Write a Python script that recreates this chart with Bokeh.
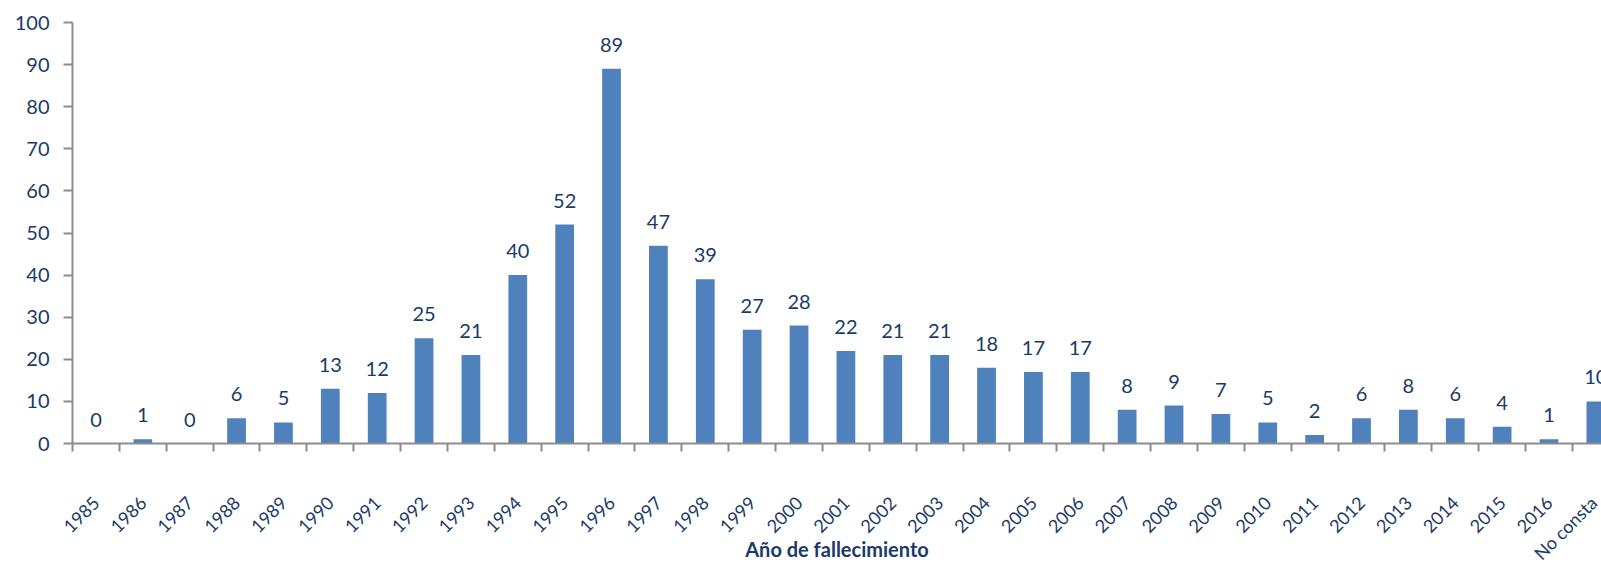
import math
from bokeh.plotting import figure
from bokeh.models import ColumnDataSource, Range1d, FixedTicker, LabelSet
from bokeh.core.properties import value
from bokeh.embed import file_html
from bokeh.resources import INLINE

categories = ["1985", "1986", "1987", "1988", "1989", "1990", "1991", "1992", "1993",
              "1994", "1995", "1996", "1997", "1998", "1999", "2000", "2001", "2002",
              "2003", "2004", "2005", "2006", "2007", "2008", "2009", "2010", "2011",
              "2012", "2013", "2014", "2015", "2016", "No consta"]
values = [0, 1, 0, 6, 5, 13, 12, 25, 21, 40, 52, 89, 47, 39, 27, 28, 22, 21, 21, 18,
          17, 17, 8, 9, 7, 5, 2, 6, 8, 6, 4, 1, 10]
y_ticks = [0, 10, 20, 30, 40, 50, 60, 70, 80, 90, 100]
x_title = "Año de fallecimiento"

NAVY = "#1A3A68"
BAR = "#4F81BD"
AXIS = "#8C8C8C"
FONT = "Lato"

xs = list(range(len(categories)))
src = ColumnDataSource(dict(x=xs, v=values, lab=[str(v) for v in values]))

p = figure(width=1601, height=563, output_backend="svg", toolbar_location=None,
           x_range=Range1d(-0.5, 32.12), y_range=Range1d(0, 100),
           min_border_left=72, min_border_right=0, min_border_top=22, min_border_bottom=120)
p.outline_line_color = None
p.xgrid.grid_line_color = None
p.ygrid.grid_line_color = None

p.vbar(x="x", top="v", width=0.40, bottom=0, source=src, fill_color=BAR, line_color=None)

labels = LabelSet(x="x", y="v", text="lab", source=src, text_align="center",
                  text_baseline="alphabetic", y_offset=17, text_color=NAVY,
                  text_font=value(FONT), text_font_size="20px")
p.add_layout(labels)

# y axis
p.yaxis.ticker = FixedTicker(ticks=y_ticks)
p.yaxis.axis_line_color = AXIS
p.yaxis.axis_line_width = 2
p.yaxis.major_tick_line_color = AXIS
p.yaxis.major_tick_line_width = 2
p.yaxis.major_tick_out = 9
p.yaxis.major_tick_in = 0
p.yaxis.minor_tick_line_color = None
p.yaxis.major_label_standoff = 14
p.yaxis.major_label_text_color = NAVY
p.yaxis.major_label_text_font = FONT
p.yaxis.major_label_text_font_size = "20px"

# x axis
bounds = [i - 0.5 for i in range(len(categories) + 1)]
p.xaxis.ticker = FixedTicker(ticks=xs, minor_ticks=bounds)
p.xaxis.major_label_overrides = {i: c for i, c in enumerate(categories)}
p.xaxis.major_label_orientation = math.pi / 4
p.xaxis.axis_line_color = AXIS
p.xaxis.axis_line_width = 2
p.xaxis.major_tick_line_color = None
p.xaxis.major_tick_out = 0
p.xaxis.major_tick_in = 0
p.xaxis.minor_tick_line_color = AXIS
p.xaxis.minor_tick_line_width = 2
p.xaxis.minor_tick_out = 8
p.xaxis.minor_tick_in = 0
p.xaxis.major_label_standoff = 48
p.xaxis.major_label_text_color = NAVY
p.xaxis.major_label_text_font = FONT
p.xaxis.major_label_text_font_size = "18px"
p.xaxis.axis_label = x_title
p.xaxis.axis_label_text_color = NAVY
p.xaxis.axis_label_text_font = FONT
p.xaxis.axis_label_text_font_size = "20px"
p.xaxis.axis_label_text_font_style = "bold"
p.xaxis.axis_label_standoff = -38

open("out.html", "w").write(file_html(p, INLINE))
